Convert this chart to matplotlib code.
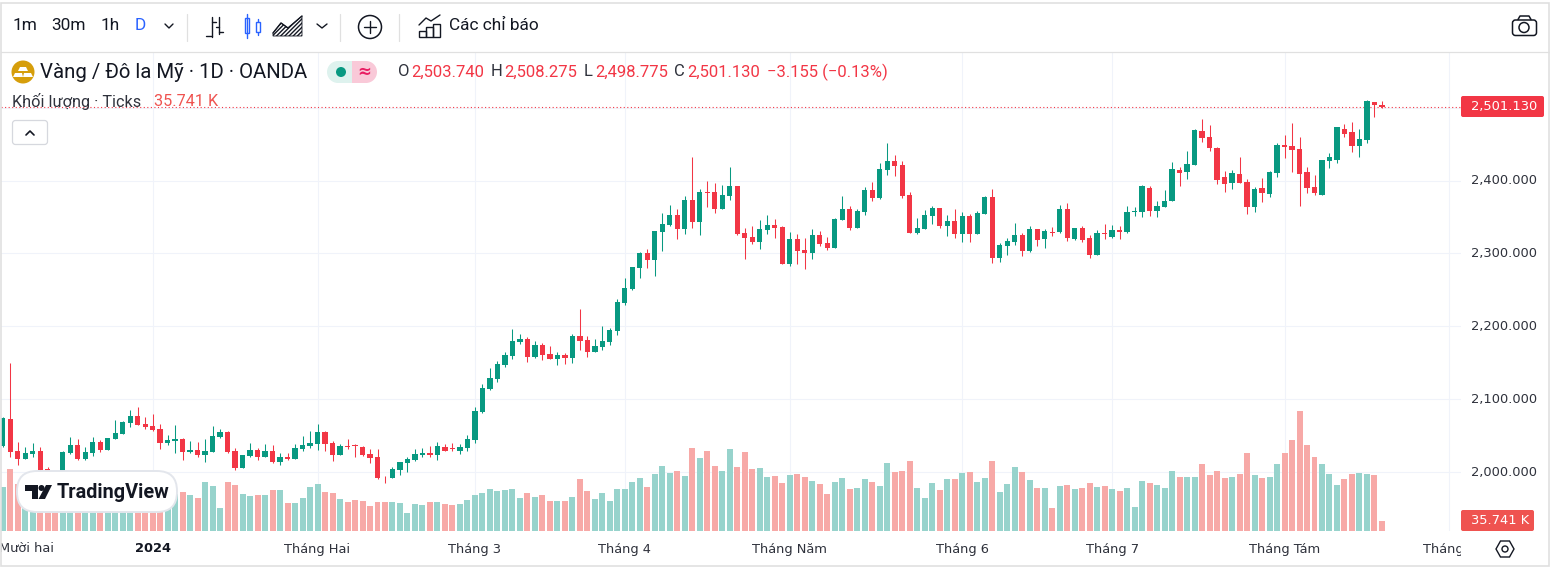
"""Gold / USD daily candles with tick volume, TradingView widget look."""
import matplotlib
matplotlib.use("Agg")
import matplotlib.pyplot as plt
import numpy as np
from matplotlib.patches import Circle, FancyBboxPatch, Polygon, Rectangle, Wedge
from matplotlib.transforms import ScaledTranslation

UP_COLOR = "#089981"
DOWN_COLOR = "#f23645"
UP_VOL = "#97d3cc"
DOWN_VOL = "#f7a9a7"
GRID_COLOR = "#f0f3fa"
TEXT_COLOR = "#131722"
AXIS_TEXT = "#2f323c"
FRAME_COLOR = "#e0e0e0"

opens = [
    2036.3, 2073.3, 2029.4, 2018.5, 2024.9, 2029.4, 2004.3, 1997.9, 1992.0, 2026.2,
    2037.6, 2018.5, 2026.2, 2041.8, 2030.8, 2045.9, 2052.7, 2067.3, 2077.4, 2066.4,
    2063.7, 2059.6, 2040.4, 2043.6, 2045.9, 2028.0, 2030.8, 2023.9, 2028.5, 2048.6,
    2055.9, 2029.4, 2006.6, 2022.6, 2030.8, 2021.2, 2029.4, 2014.3, 2021.2, 2018.9,
    2031.7, 2036.3, 2039.0, 2055.5, 2040.4, 2023.9, 2036.3, 2037.2, 2034.9, 2025.3,
    2021.2, 1994.2, 1992.0, 2003.4, 2013.0, 2016.6, 2023.9, 2026.7, 2023.9, 2035.4,
    2033.5, 2029.4, 2033.5, 2044.5, 2082.9, 2114.8, 2128.1, 2147.2, 2159.6, 2178.8,
    2182.9, 2158.2, 2174.6, 2162.3, 2155.9, 2160.9, 2157.3, 2187.0, 2181.5, 2165.5,
    2171.9, 2178.8, 2194.3, 2232.2, 2251.4, 2280.1, 2300.7, 2291.1, 2329.5, 2339.0,
    2352.7, 2333.6, 2373.3, 2343.2, 2384.3, 2384.3, 2361.0, 2378.8, 2392.5, 2328.1,
    2322.6, 2315.8, 2332.2, 2339.0, 2336.3, 2285.6, 2319.9, 2304.8, 2300.7, 2325.3,
    2314.4, 2307.5, 2345.9, 2361.0, 2334.9, 2356.9, 2387.0, 2376.0, 2414.4, 2426.7,
    2421.2, 2380.1, 2328.1, 2333.6, 2351.4, 2362.3, 2337.7, 2344.5, 2326.7, 2351.4,
    2326.7, 2354.1, 2377.4, 2293.8, 2310.3, 2315.7, 2325.3, 2303.4, 2333.6, 2319.9,
    2329.4, 2329.4, 2361.0, 2319.9, 2334.9, 2321.2, 2297.9, 2328.1, 2322.6, 2332.2,
    2329.4, 2356.8, 2356.8, 2389.7, 2358.2, 2363.7, 2371.9, 2414.4, 2411.7, 2421.2,
    2467.8, 2459.6, 2444.5, 2404.8, 2396.6, 2408.9, 2398.0, 2363.7, 2389.7, 2381.5,
    2410.3, 2448.6, 2447.3, 2443.2, 2411.7, 2391.1, 2380.1, 2426.7, 2428.1, 2470.6,
    2466.5, 2447.3, 2455.5, 2507.6, 2503.74,
]
highs = [
    2076.5, 2149.5, 2041.3, 2035.4, 2039.9, 2034.4, 2007.9, 2000.6, 2029.4, 2048.1,
    2045.9, 2034.4, 2048.1, 2044.5, 2047.2, 2071.9, 2070.5, 2085.6, 2089.7, 2076.5,
    2079.7, 2065.9, 2051.3, 2065.0, 2046.8, 2043.1, 2041.3, 2045.4, 2063.7, 2059.1,
    2056.8, 2033.1, 2023.9, 2039.9, 2033.1, 2039.0, 2037.2, 2026.2, 2027.1, 2038.6,
    2050.0, 2056.8, 2065.9, 2056.8, 2043.1, 2039.0, 2045.9, 2038.6, 2036.3, 2032.2,
    2032.2, 1995.6, 2007.9, 2014.8, 2021.7, 2032.2, 2033.1, 2035.8, 2041.3, 2038.6,
    2039.9, 2038.6, 2051.3, 2089.7, 2121.2, 2142.7, 2152.7, 2165.0, 2196.6, 2189.7,
    2185.1, 2180.1, 2176.9, 2173.3, 2165.0, 2163.7, 2189.7, 2224.0, 2187.0, 2182.9,
    2200.7, 2197.9, 2237.2, 2266.4, 2282.0, 2302.1, 2306.2, 2330.8, 2355.5, 2366.4,
    2361.0, 2378.8, 2432.2, 2388.4, 2399.3, 2396.6, 2393.8, 2418.5, 2392.5, 2334.9,
    2337.7, 2345.9, 2352.7, 2347.3, 2337.7, 2329.5, 2326.7, 2321.2, 2333.6, 2330.8,
    2322.6, 2348.6, 2378.8, 2365.0, 2361.0, 2391.1, 2398.0, 2424.0, 2451.4, 2434.9,
    2426.7, 2384.3, 2348.6, 2359.6, 2365.1, 2362.3, 2352.7, 2361.0, 2356.8, 2354.1,
    2358.2, 2378.8, 2388.4, 2314.4, 2321.2, 2341.8, 2328.1, 2337.7, 2333.6, 2333.6,
    2336.3, 2366.4, 2369.2, 2334.9, 2337.7, 2325.3, 2332.2, 2340.4, 2339.0, 2337.7,
    2365.1, 2363.7, 2393.8, 2392.5, 2371.9, 2387.0, 2425.4, 2418.5, 2440.4, 2470.6,
    2484.3, 2476.0, 2445.9, 2413.0, 2414.4, 2432.2, 2402.1, 2391.1, 2403.4, 2413.0,
    2451.4, 2462.3, 2478.8, 2459.6, 2418.5, 2407.5, 2428.1, 2437.7, 2473.3, 2477.4,
    2480.2, 2470.6, 2510.3, 2507.6, 2508.275,
]
lows = [
    2034.4, 2021.7, 2010.2, 2018.5, 2021.7, 2001.1, 1992.0, 1985.0, 1989.7, 2025.3,
    2017.1, 2017.1, 2022.6, 2028.5, 2030.8, 2045.4, 2052.7, 2062.8, 2065.0, 2060.0,
    2056.8, 2032.2, 2037.6, 2026.2, 2017.1, 2027.1, 2021.7, 2014.8, 2028.0, 2047.7,
    2026.2, 2003.4, 2006.6, 2021.7, 2017.1, 2021.2, 2012.5, 2010.2, 2017.1, 2018.5,
    2029.9, 2033.1, 2030.8, 2029.4, 2015.7, 2023.5, 2032.2, 2021.7, 2022.6, 2013.4,
    1991.0, 1985.6, 1992.0, 1996.5, 2001.1, 2015.7, 2021.7, 2021.7, 2017.1, 2029.0,
    2029.9, 2025.8, 2029.9, 2040.8, 2081.0, 2112.5, 2124.0, 2145.0, 2155.9, 2176.5,
    2151.8, 2156.8, 2154.5, 2155.5, 2147.7, 2149.1, 2150.4, 2167.8, 2158.7, 2165.0,
    2168.3, 2175.1, 2188.8, 2229.9, 2250.0, 2266.4, 2280.1, 2269.2, 2303.4, 2337.7,
    2319.9, 2326.7, 2335.0, 2325.3, 2363.7, 2355.5, 2361.0, 2373.3, 2325.3, 2292.5,
    2313.0, 2306.2, 2326.7, 2321.2, 2285.6, 2282.9, 2285.6, 2278.8, 2292.5, 2310.3,
    2304.8, 2307.5, 2345.9, 2332.2, 2334.9, 2352.7, 2371.9, 2374.7, 2407.5, 2406.2,
    2376.0, 2328.1, 2326.7, 2333.6, 2340.4, 2334.9, 2324.0, 2321.2, 2315.7, 2315.7,
    2326.7, 2354.1, 2287.0, 2288.3, 2297.9, 2311.6, 2296.6, 2302.0, 2310.3, 2307.5,
    2324.0, 2328.1, 2317.1, 2318.5, 2315.7, 2293.8, 2297.9, 2319.9, 2321.2, 2319.9,
    2328.1, 2351.4, 2350.0, 2351.4, 2350.0, 2363.7, 2371.9, 2392.5, 2402.1, 2421.2,
    2452.8, 2440.4, 2395.2, 2384.3, 2388.4, 2396.6, 2354.1, 2356.8, 2370.6, 2377.4,
    2404.8, 2430.8, 2411.7, 2365.1, 2382.9, 2380.1, 2380.1, 2417.1, 2424.0, 2459.6,
    2439.1, 2432.2, 2451.4, 2487.0, 2498.775,
]
closes = [
    2074.2, 2028.5, 2018.5, 2026.7, 2029.4, 2003.4, 2002.5, 1987.4, 2028.5, 2037.6,
    2018.0, 2028.0, 2041.3, 2030.8, 2047.2, 2053.6, 2069.2, 2077.4, 2065.0, 2061.8,
    2058.2, 2040.4, 2044.5, 2045.4, 2028.5, 2030.8, 2023.5, 2029.0, 2050.0, 2055.5,
    2028.5, 2005.7, 2023.5, 2030.8, 2021.2, 2029.4, 2014.3, 2021.2, 2018.5, 2033.5,
    2037.6, 2040.4, 2055.5, 2039.0, 2023.9, 2036.3, 2034.9, 2036.3, 2023.9, 2019.8,
    1992.4, 1993.3, 2004.8, 2014.3, 2018.5, 2025.3, 2026.7, 2023.9, 2036.3, 2029.9,
    2032.2, 2034.9, 2045.9, 2084.2, 2115.7, 2129.4, 2148.6, 2160.9, 2180.1, 2182.9,
    2158.7, 2174.6, 2161.4, 2155.9, 2160.9, 2157.3, 2187.0, 2180.6, 2165.0, 2173.3,
    2180.1, 2195.2, 2233.6, 2252.7, 2281.5, 2300.7, 2291.1, 2330.8, 2340.4, 2352.7,
    2333.6, 2373.3, 2343.2, 2384.3, 2382.9, 2361.0, 2380.1, 2392.5, 2326.7, 2321.2,
    2315.8, 2333.6, 2339.0, 2334.9, 2285.6, 2319.9, 2303.4, 2300.7, 2325.3, 2313.0,
    2307.5, 2347.3, 2361.0, 2334.9, 2358.2, 2387.0, 2376.0, 2415.8, 2426.7, 2419.9,
    2378.8, 2328.1, 2334.9, 2352.7, 2362.3, 2337.7, 2344.5, 2326.7, 2351.4, 2326.7,
    2355.5, 2377.4, 2293.8, 2311.6, 2317.1, 2325.3, 2303.4, 2333.6, 2318.5, 2330.8,
    2328.1, 2361.0, 2321.2, 2334.9, 2318.5, 2297.9, 2328.1, 2326.7, 2332.2, 2329.4,
    2356.8, 2358.2, 2392.5, 2358.2, 2365.1, 2371.9, 2415.8, 2410.3, 2422.6, 2469.2,
    2458.2, 2444.5, 2400.7, 2395.2, 2410.3, 2396.6, 2363.7, 2388.4, 2382.9, 2411.7,
    2448.6, 2445.9, 2441.8, 2408.9, 2389.7, 2382.9, 2428.1, 2432.2, 2473.3, 2463.7,
    2447.3, 2456.9, 2508.9, 2503.4, 2501.13,
]
# thousands of ticks; bars 3-23 sit behind the watermark so those are a guess
volumes = [
    157, 222, 168, 125, 130, 118, 115, 122, 135, 128,
    140, 120, 125, 118, 132, 128, 120, 135, 125, 118,
    122, 130, 140, 132, 138, 129, 118, 175, 161, 82,
    175, 164, 132, 125, 129, 129, 146, 146, 100, 100,
    118, 157, 168, 139, 136, 114, 104, 111, 107, 89,
    104, 104, 104, 100, 64, 96, 93, 104, 104, 96,
    93, 96, 111, 129, 136, 150, 143, 145, 149, 117,
    135, 120, 127, 106, 106, 106, 120, 185, 142, 113,
    135, 106, 149, 150, 175, 189, 157, 204, 232, 207,
    214, 197, 297, 261, 286, 232, 214, 293, 229, 282,
    222, 225, 193, 197, 172, 200, 204, 193, 179, 168,
    132, 175, 189, 150, 154, 186, 175, 161, 243, 211,
    214, 250, 154, 118, 172, 146, 186, 186, 207, 211,
    175, 189, 250, 139, 168, 229, 211, 182, 154, 154,
    82, 161, 164, 150, 154, 172, 157, 161, 150, 143,
    154, 86, 179, 172, 164, 154, 214, 193, 193, 193,
    239, 200, 214, 189, 193, 204, 279, 200, 189, 193,
    239, 279, 325, 429, 307, 264, 239, 204, 164, 186,
    204, 207, 204, 200, 35.741,
]

price_ticks = [2000, 2100, 2200, 2300, 2400, 2500]
month_ticks = [20, 42, 63, 83, 105, 128, 148, 171, 193]
month_labels = ["2024", "Tháng Hai", "Tháng 3", "Tháng 4", "Tháng Năm", "Tháng 6",
                "Tháng 7", "Tháng Tám", "Tháng 9"]
last_price = closes[-1]
last_volume = volumes[-1]

W, H = 1550, 573
HEADER_FONT = "Roboto"
AXIS_FONT = "DejaVu Sans"

fig = plt.figure(figsize=(W / 100, H / 100), dpi=100, facecolor="white")


def px_axes(left, top, right, bottom, **kw):
    return fig.add_axes([left / W, 1 - bottom / H, (right - left) / W, (bottom - top) / H], **kw)


x = np.arange(len(closes))
o, h, l, c = map(np.array, (opens, highs, lows, closes))
up = c >= o
candle_colors = np.where(up, UP_COLOR, DOWN_COLOR)
vol_colors = np.where(up, UP_VOL, DOWN_VOL)

# index i sits at 2.7 + 7.496 * i pixels
x_lim = ((1 - 2.7) / 7.496, (1461 - 2.7) / 7.496)

ax = px_axes(1, 52, 1461, 531)
ax.set_xlim(x_lim)
ax.set_ylim(2400 - (531 - 180.5) * 1.37, 2400 + (180.5 - 52) * 1.37)
ax.vlines(x, l, h, colors=candle_colors, linewidth=0.75, zorder=3)
ax.bar(x, np.abs(c - o), bottom=np.minimum(o, c), width=0.7, color=candle_colors,
       linewidth=0, zorder=4)
ax.axhline(last_price, color=DOWN_COLOR, linewidth=0.8, linestyle=(0, (1, 2.2)), zorder=2)

ax.yaxis.tick_right()
ax.set_yticks(price_ticks)
# the 2,500 label sits under the last-price tag, the widget drops it too
ax.set_yticklabels([f"{v:,.3f}" if v < 2500 else "" for v in price_ticks], fontsize=9.4,
                   color=AXIS_TEXT, family=AXIS_FONT)
ax.set_xticks(month_ticks)
ax.set_xticklabels([])
ax.tick_params(length=0, pad=7)
# tick_params rebuilds the label transforms, so nudge after it
nudge = ScaledTranslation(0, 1.5 / 100, fig.dpi_scale_trans)
for tick_label in ax.get_yticklabels():
    tick_label.set_transform(tick_label.get_transform() + nudge)
ax.grid(True, color=GRID_COLOR, linewidth=0.8)
ax.set_axisbelow(True)
for spine in ax.spines.values():
    spine.set_visible(False)

# volume pane shares the same bottom edge, its own scale
ax_vol = px_axes(1, 52, 1461, 531, zorder=2)
ax_vol.patch.set_alpha(0)
ax_vol.set_xlim(x_lim)
ax_vol.set_ylim(0, 479 * 3.574)
ax_vol.bar(x, volumes, width=0.8, color=vol_colors, linewidth=0)
ax_vol.axis("off")

# time scale strip, labels get clipped at both ends like the widget
ax_time = px_axes(1, 532, 1461, 566, zorder=2)
ax_time.set_xlim(x_lim)
ax_time.set_ylim(0, 1)
ax_time.axis("off")
for pos, label_text in zip(month_ticks, month_labels):
    bold = label_text == "2024"
    ax_time.text(pos, 0.5, label_text, ha="center", va="center", fontsize=9.4, clip_on=True,
                 family=AXIS_FONT, color=TEXT_COLOR if bold else AXIS_TEXT,
                 fontweight="bold" if bold else "normal")
ax_time.text(3.2, 0.5, "Mười hai", ha="center", va="center", fontsize=9.4, clip_on=True,
             family=AXIS_FONT, color=AXIS_TEXT)

# everything else is widget chrome, drawn in pixel coordinates
ui = fig.add_axes([0, 0, 1, 1], zorder=5)
ui.set_xlim(0, W)
ui.set_ylim(H, 0)
ui.axis("off")
ui.patch.set_alpha(0)


def line(xs, ys, color=TEXT_COLOR, lw=1.0):
    ui.plot(xs, ys, color=color, linewidth=lw, solid_capstyle="round", solid_joinstyle="round")


def label(px, py, s, color=TEXT_COLOR, size=12.4, ha="left", **kw):
    kw.setdefault("family", HEADER_FONT)
    return ui.text(px, py, s, color=color, fontsize=size, ha=ha, va="center", **kw)


def round_box(left, top, right, bottom, radius, face, edge="none", lw=1.0, z=2):
    ui.add_patch(FancyBboxPatch((left + radius, top + radius), right - left - 2 * radius,
                                bottom - top - 2 * radius,
                                boxstyle=f"round,pad={radius},rounding_size={radius}",
                                facecolor=face, edgecolor=edge, linewidth=lw, zorder=z))


# frame
ui.add_patch(Rectangle((0.5, 2.5), 1548, 563.5, fill=False, edgecolor=FRAME_COLOR, linewidth=1.2))
line([1, 1549], [51.5, 51.5], FRAME_COLOR, 0.9)
for sep in (187, 340, 399):
    line([sep, sep], [14, 41], FRAME_COLOR, 0.9)

# toolbar
label(12, 26, "1m")
label(51, 26, "30m")
label(100, 26, "1h")
label(135, 26, "D", color="#2962ff")
line([165, 169, 173], [24, 28, 24], TEXT_COLOR, 1)
line([317, 322, 327], [24, 28, 24], TEXT_COLOR, 1)

line([212, 212], [17, 37])
line([206, 212], [36, 36])
line([212, 216], [22, 22])
line([219, 219], [17, 34])
line([219, 223], [32, 32])
line([216, 219], [27, 27])

line([247, 247], [14, 38], "#2962ff")
ui.add_patch(Rectangle((245, 18), 4, 15, fill=False, edgecolor="#2962ff", linewidth=1, zorder=3,
                       facecolor="white"))
line([257.5, 257.5], [19, 35], "#2962ff")
ui.add_patch(Rectangle((255.5, 22), 4, 10, facecolor="white", edgecolor="#2962ff", linewidth=1, zorder=3))

ui.add_patch(Polygon([(273, 36), (273, 33), (281, 23), (288, 28), (302, 16), (302, 36)],
                     facecolor="white", edgecolor=TEXT_COLOR, linewidth=0.6,
                     hatch="////////"))
line([273, 281, 288, 302], [33, 23, 28, 16], TEXT_COLOR, 1)

ui.add_patch(Circle((370, 27), 11.5, fill=False, edgecolor=TEXT_COLOR, linewidth=1.1))
line([370, 370], [21, 33])
line([364, 376], [27, 27])

for left, top in ((419, 31), (426, 27), (433, 24)):
    ui.add_patch(Rectangle((left, top), 6.5, 37 - top, fill=False, edgecolor=TEXT_COLOR, linewidth=1))
line([419, 426, 431, 440], [25, 18, 21, 15])
label(449, 26, "Các chỉ báo")

ui.add_patch(FancyBboxPatch((1512.5, 20), 24, 15.5, boxstyle="round,pad=0,rounding_size=3",
                            fill=False, edgecolor=TEXT_COLOR, linewidth=1.1))
line([1518, 1520, 1529, 1531], [19.5, 16, 16, 19.5], TEXT_COLOR, 1.1)
ui.add_patch(Circle((1524, 27.5), 5, fill=False, edgecolor=TEXT_COLOR, linewidth=1.1))

# legend lines
ui.add_patch(Circle((23, 72), 11.5, facecolor="#d69e0b", edgecolor="none"))
ui.add_patch(Polygon([(20, 67), (26, 67), (28, 71), (18, 71)], facecolor="white"))
ui.add_patch(Polygon([(15, 73), (22, 73), (23, 77), (13, 77)], facecolor="white"))
ui.add_patch(Polygon([(24, 73), (31, 73), (33, 77), (23, 77)], facecolor="white"))
label(40, 72, "Vàng / Đô la Mỹ · 1D · OANDA", size=14.7)

ui.add_patch(Wedge((338, 72), 11, 90, 270, facecolor="#def2ee", edgecolor="none"))
ui.add_patch(Rectangle((338, 61), 14, 22, facecolor="#def2ee", edgecolor="none"))
ui.add_patch(Wedge((366, 72), 11, 270, 90, facecolor="#f9c9d8", edgecolor="none"))
ui.add_patch(Rectangle((352, 61), 14, 22, facecolor="#f9c9d8", edgecolor="none"))
ui.add_patch(Circle((341, 72), 5, facecolor=UP_COLOR, edgecolor="none"))
label(364, 71.5, "≈", color="#e91e63", size=12, ha="center", family="DejaVu Sans", fontweight="bold")

ohlc_row = [(398, 411, "O", opens[-1]), (491, 504, "H", highs[-1]),
            (584, 595, "L", lows[-1]), (674, 687, "C", closes[-1])]
for px, value_px, letter, value in ohlc_row:
    label(px, 72, letter, size=12, color=AXIS_TEXT)
    label(value_px, 72, f"{value:,.3f}", size=12, color=DOWN_COLOR)
label(767, 72, "−3.155 (−0.13%)", size=12, color=DOWN_COLOR)

label(12, 102, "Khối lượng · Ticks", size=11.7, color=AXIS_TEXT)
label(154, 102, f"{last_volume:.3f} K", size=11.7, color="#ef5350")

round_box(12.5, 120.5, 47.5, 144.5, 3, "white", "#d6d8de", 0.9)
line([26, 30, 34], [135, 131, 135], TEXT_COLOR, 1.2)

# price and volume tags over the scale
round_box(1461, 96, 1544, 117, 2, DOWN_COLOR)
label(1471, 106.5, f"{last_price:,.3f}", color="white", size=9.4, family=AXIS_FONT)
round_box(1461, 510, 1534, 531, 2, "#ef5350")
label(1471, 520.5, f"{last_volume:.3f} K", color="white", size=9.4, family=AXIS_FONT)

# settings hexagon on the time scale
ui.add_patch(Polygon([(1496, 549), (1500.5, 541), (1509.5, 541), (1514, 549), (1509.5, 557), (1500.5, 557)],
                     fill=False, edgecolor=TEXT_COLOR, linewidth=1))
ui.add_patch(Circle((1505, 549), 3, fill=False, edgecolor=TEXT_COLOR, linewidth=1))

# TradingView watermark
round_box(17, 471, 177, 512, 20, "white", "#e3e6ec", 1.4, z=6)
ui.add_patch(Polygon([(25, 485), (38, 485), (38, 499), (32, 499), (32, 491), (25, 491)],
                     facecolor=TEXT_COLOR, zorder=7))
ui.add_patch(Circle((41.5, 488), 3, facecolor=TEXT_COLOR, zorder=7))
ui.add_patch(Polygon([(46, 485), (52, 485), (45, 499), (38.5, 499)], facecolor=TEXT_COLOR, zorder=7))
label(57, 492, "TradingView", size=14.3, fontweight="bold", zorder=7)

fig.savefig("out.png", dpi=100, facecolor="white")
